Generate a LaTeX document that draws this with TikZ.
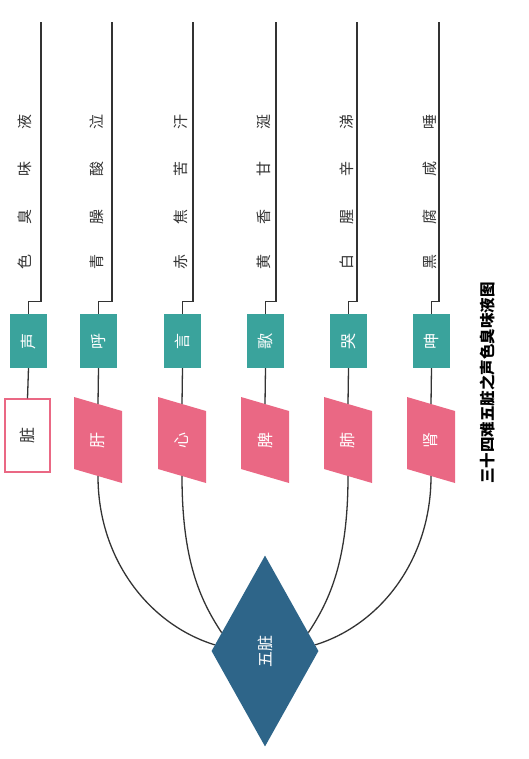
\documentclass[tikz,border=0pt]{standalone}
\usepackage{fontspec}
\newfontfamily\cjk{Noto Sans CJK SC}
\usetikzlibrary{shapes.geometric,calc}
\definecolor{qing}{HTML}{3AA39C}
\definecolor{fen}{HTML}{EA6884}
\definecolor{lan}{HTML}{2E6589}
\definecolor{xian}{HTML}{333333}
\newcommand{\shu}[1]{\rotatebox{90}{#1}}
\tikzset{
  lianxian/.style={xian, line width=1.3pt},
  shengbox/.style={fill=qing, text=white, minimum width=37pt, minimum height=54pt, inner sep=0pt},
  zangbox/.style={text=white, minimum width=48pt, minimum height=72pt, inner sep=0pt},
  ziyang/.style={text=xian, rotate=90, inner sep=1pt, font=\cjk\fontsize{15}{17}\selectfont},
}
\begin{document}
\begin{tikzpicture}[x=1pt, y=-1pt, font=\cjk\fontsize{16}{18}\selectfont]
    \useasboundingbox (0,0) rectangle (529,759);

    % 表头一列
    \node[draw=fen, line width=1.3pt, fill=white, text=xian, minimum width=45pt, minimum height=73pt, inner sep=0pt] (zang0) at (27.5,435.5) {\shu{脏}};
    \node[shengbox] (sheng0) at (28.5,341) {\shu{声}};
    \coordinate (ding0) at (41,22);
    \draw[lianxian] (zang0.north) -- (sheng0.south);
    \draw[lianxian] (sheng0.north) -- ++(0,-12) -| (ding0);
    \foreach \y/\t [count=\k] in {262/色, 217/臭, 169/味, 122/液}
        \node[ziyang] (zi0\k) at (25,\y) {\t};

    % 五脏各列
    \foreach \x/\top/\sheng/\zang/\a/\b/\c/\d [count=\n] in {
        98/112/呼/肝/青/臊/酸/泣,
        182/193/言/心/赤/焦/苦/汗,
        265/276/歌/脾/黄/香/甘/涎,
        348/357/哭/肺/白/腥/辛/涕,
        431/439/呻/肾/黑/腐/咸/唾}{
        \fill[fen] (\x-24,397) -- (\x+24,411) -- (\x+24,483) -- (\x-24,469) -- cycle;
        \node[zangbox] (zang\n) at (\x,440) {\shu{\zang}};
        \node[shengbox] (sheng\n) at (\x+0.5,341) {\shu{\sheng}};
        \coordinate (ding\n) at (\top,22);
        \draw[lianxian] (zang\n.north) -- (sheng\n.south);
        \draw[lianxian] (sheng\n.north) -- ++(0,-12) -| (ding\n);
        \node[ziyang] (zi\n1) at (\x-1,262) {\a};
        \node[ziyang] (zi\n2) at (\x-1,217) {\b};
        \node[ziyang] (zi\n3) at (\x-1,169) {\c};
        \node[ziyang] (zi\n4) at (\x-1,122) {\d};
    }

    % 五脏菱形
    \node[diamond, fill=lan, text=white, minimum width=107pt, minimum height=191pt, inner sep=0pt] (wuzang) at (265,651) {\shu{五脏}};

    % 曲线连接
    \draw[lianxian] (zang1.south) .. controls (98,560) and (150,625) .. (wuzang.173);
    \draw[lianxian] (zang2.south) .. controls (182,560) and (200,600) .. (wuzang.157);
    \draw[lianxian] (zang4.south) .. controls (348,560) and (330,600) .. (wuzang.23);
    \draw[lianxian] (zang5.south) .. controls (431,560) and (380,625) .. (wuzang.7);

    % 标题
    \node[rotate=90, text=black, font=\cjk\bfseries\fontsize{15.5}{17}\selectfont] (biaoti) at (488,383) {三十四难五脏之声色臭味液图};
\end{tikzpicture}
\end{document}
